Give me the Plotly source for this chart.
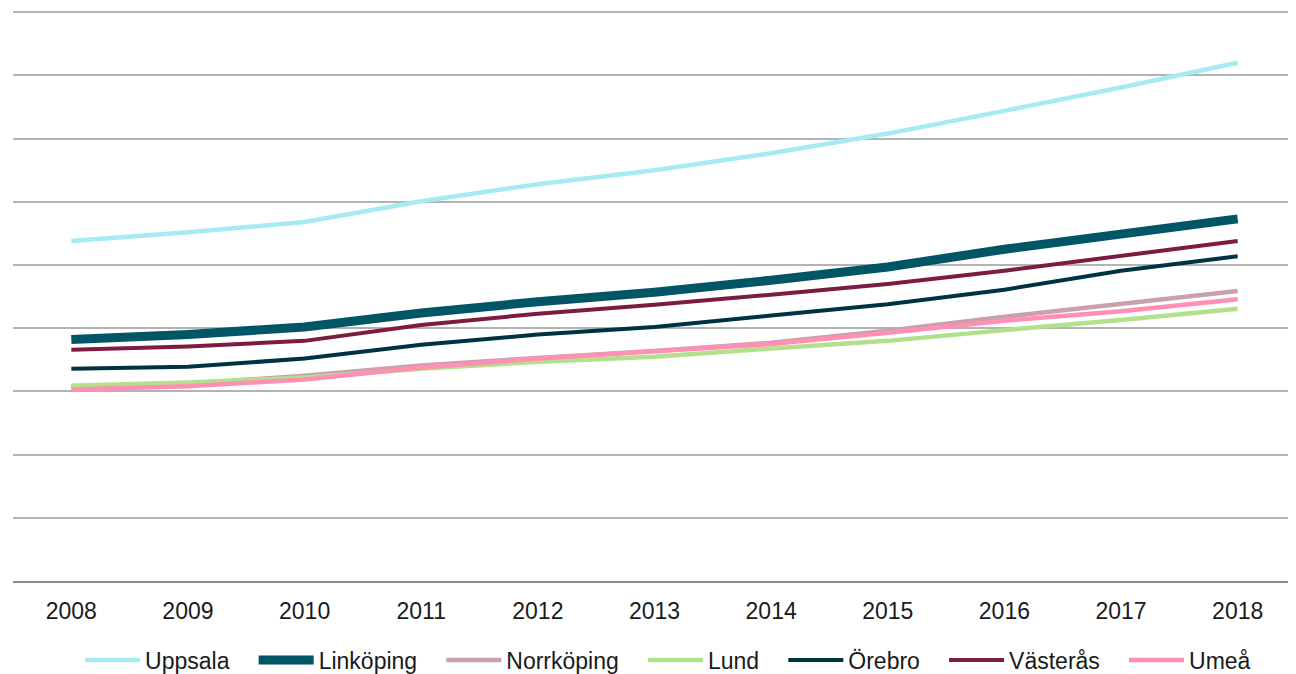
import plotly.graph_objects as go

years = ["2008", "2009", "2010", "2011", "2012", "2013", "2014", "2015", "2016", "2017", "2018"]

uppsala    = [5.38, 5.52, 5.68, 6.01, 6.28, 6.50, 6.77, 7.08, 7.44, 7.81, 8.20]
linkoping  = [3.82, 3.90, 4.02, 4.24, 4.42, 4.57, 4.76, 4.97, 5.25, 5.49, 5.73]
norrkoping = [3.08, 3.12, 3.25, 3.41, 3.53, 3.64, 3.77, 3.96, 4.18, 4.38, 4.59]
lund       = [3.09, 3.14, 3.22, 3.36, 3.47, 3.55, 3.68, 3.80, 3.97, 4.13, 4.31]
orebro     = [3.36, 3.39, 3.52, 3.74, 3.90, 4.02, 4.20, 4.38, 4.61, 4.91, 5.14]
vasteras   = [3.66, 3.71, 3.80, 4.05, 4.23, 4.37, 4.53, 4.70, 4.91, 5.14, 5.38]
umea       = [3.03, 3.08, 3.19, 3.38, 3.52, 3.63, 3.75, 3.93, 4.12, 4.27, 4.46]

series = [
    ("Uppsala", uppsala, "#A6EBF2", 4.5),
    ("Linköping", linkoping, "#005566", 9),
    ("Norrköping", norrkoping, "#C9A0AE", 4.5),
    ("Lund", lund, "#B3E08A", 4.5),
    ("Örebro", orebro, "#003340", 4),
    ("Västerås", vasteras, "#7B1C40", 4),
    ("Umeå", umea, "#FF8FB3", 4.5),
]

PAD = "\u00a0\u00a0\u00a0"

fig = go.Figure()
for name, vals, color, w in series:
    fig.add_trace(go.Scatter(
        x=years, y=vals, name=name + PAD, mode="lines",
        line=dict(color=color, width=w),
    ))

fig.update_layout(
    width=1288, height=666,
    margin=dict(l=5, r=0, t=3, b=93),
    plot_bgcolor="white", paper_bgcolor="white",
    font=dict(family="Liberation Sans, Arial, sans-serif", size=23, color="#1a1a1a"),
    showlegend=True,
    legend=dict(
        orientation="h", xref="paper", x=0.518, xanchor="center",
        yref="container", y=0.021, yanchor="middle",
        font=dict(size=23, color="#1a1a1a"), itemwidth=55, tracegroupgap=0,
        traceorder="normal",
    ),
    xaxis=dict(
        type="category", range=[-0.5, 10.5], showgrid=False,
        showline=True, linecolor="#8C8C8C", linewidth=2,
        ticks="", ticklabelstandoff=8,
        tickfont=dict(size=23, color="#1a1a1a"),
    ),
    yaxis=dict(
        range=[0, 9.02], dtick=1, tick0=0, showgrid=True, gridcolor="#B3B3B3", gridwidth=2,
        showticklabels=False, zeroline=False, showline=False,
    ),
)

fig.write_html("out.html")
